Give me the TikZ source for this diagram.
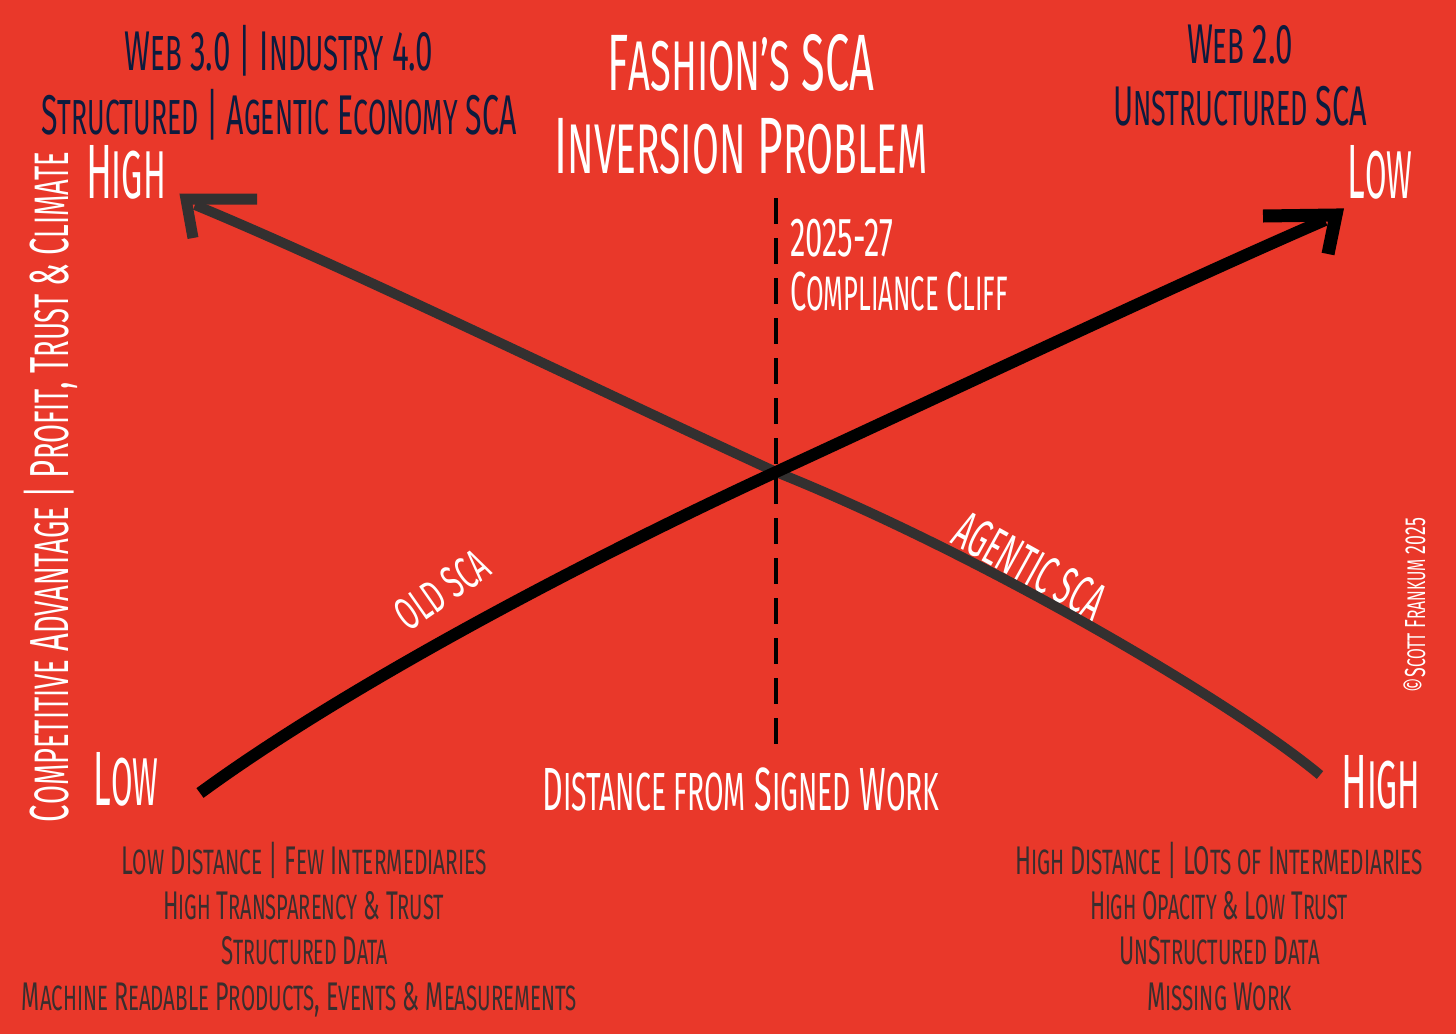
\documentclass[tikz,border=0pt]{standalone}
\usepackage{fontspec}
\setmainfont{Fira Sans}
\usepackage{graphicx}
\definecolor{bgred}{HTML}{E9382A}
\definecolor{navyc}{HTML}{0D1B3E}
\definecolor{darkt}{HTML}{3A2E2E}
\definecolor{grayline}{HTML}{333030}
\newlength\fitlen
\newcommand\fitw[2]{\settowidth\fitlen{#2}\pgfmathsetmacro\fitfac{#1/\fitlen}\scalebox{\fitfac}[1]{#2}}
\newcommand\fsz[1]{\fontsize{#1}{#1}\selectfont}
\newcommand\lc[1]{\scalebox{0.88}{\MakeUppercase{#1}}}
\tikzset{
  txt/.style={inner sep=0pt, outer sep=0pt, anchor=base},
  wtxt/.style={txt, text=white},
  ntxt/.style={txt, text=navyc},
  gtxt/.style={txt, text=darkt},
  oldline/.style={line width=6pt, black},
  agline/.style={line width=5pt, grayline},
  headold/.style={line width=6.5pt, black, line join=miter},
  headag/.style={line width=5.5pt, grayline, line join=miter},
  cliffline/.style={line width=2pt, black, dash pattern=on 13pt off 7pt}
}
\begin{document}
\begin{tikzpicture}[x=0.5pt,y=-0.5pt]
\fill[bgred] (0,0) rectangle (1456,1034);
\useasboundingbox (0,0) rectangle (1456,1034);

% titles
\node[wtxt, font=\fsz{40}] (t1) at (741,90) {\fitw{133.5pt}{F\lc{ashion's} SCA}};
\node[wtxt, font=\fsz{40}] (t2) at (741,173) {\fitw{186.5pt}{I\lc{nversion} P\lc{roblem}}};

\node[ntxt, font=\fsz{28}] (w3) at (279,70) {\fitw{154.5pt}{W\lc{eb} 3.0 | I\lc{ndustry} 4.0}};
\node[ntxt, font=\fsz{28}] (st) at (279,134) {\fitw{237.5pt}{S\lc{tructured} | A\lc{gentic} E\lc{conomy} SCA}};
\node[ntxt, font=\fsz{28}] (w2) at (1240,63) {\fitw{53pt}{W\lc{eb} 2.0}};
\node[ntxt, font=\fsz{28}] (un) at (1240,125) {\fitw{127pt}{U\lc{nstructured} SCA}};

% corner labels
\node[wtxt, font=\fsz{38.5}] (hiTL) at (126,198) {\fitw{40pt}{H\lc{igh}}};
\node[wtxt, font=\fsz{38.5}] (loTR) at (1380,198) {\fitw{32.5pt}{L\lc{ow}}};
\node[wtxt, font=\fsz{38.5}] (loBL) at (126,805) {\fitw{32.5pt}{L\lc{ow}}};
\node[wtxt, font=\fsz{38.5}] (hiBR) at (1381,808) {\fitw{39.5pt}{H\lc{igh}}};

% axis labels
\node[wtxt, font=\fsz{27.5}, rotate=90] (yax) at (68,487) {\fitw{335pt}{C\lc{ompetitive} A\lc{dvantage} | P\lc{rofit}, T\lc{rust} \& C\lc{limate}}};
\node[wtxt, font=\fsz{30.5}] (xax) at (741,810) {\fitw{198.5pt}{D\lc{istance from} S\lc{igned} W\lc{ork}}};
\node[wtxt, font=\fsz{14.5}, rotate=90] (copy) at (1425,605) {\fitw{87pt}{©S\lc{cott} F\lc{rankum} 2025}};

% compliance cliff
\node[wtxt, font=\fsz{27.5}, anchor=base west] (yr) at (790,256) {\fitw{51.5pt}{2025-27}};
\node[wtxt, font=\fsz{27.5}, anchor=base west] (cc) at (790,310) {\fitw{109pt}{C\lc{ompliance} C\lc{liff}}};

% curve labels
\node[wtxt, font=\fsz{23}, anchor=center, rotate=35] (old) at (442,590) {\fitw{52pt}{OLD SCA}};
\node[wtxt, font=\fsz{27}, anchor=center, rotate=-29] (ag) at (1030,566) {\fitw{82pt}{AGENTIC SCA}};

% bottom left
\node[gtxt, font=\fsz{20}] (bl1) at (304,874) {\fitw{183pt}{L\lc{ow} D\lc{istance} | F\lc{ew} I\lc{ntermediaries}}};
\node[gtxt, font=\fsz{20}] (bl2) at (303.5,919) {\fitw{140.5pt}{H\lc{igh} T\lc{ransparency} \& T\lc{rust}}};
\node[gtxt, font=\fsz{20}] (bl3) at (304.5,964) {\fitw{83.5pt}{S\lc{tructured} D\lc{ata}}};
\node[gtxt, font=\fsz{20}] (bl4) at (299.5,1010) {\fitw{277.5pt}{M\lc{achine} R\lc{eadable} P\lc{roducts}, E\lc{vents} \& M\lc{easurements}}};

% bottom right
\node[gtxt, font=\fsz{20}] (br1) at (1219,874) {\fitw{204pt}{H\lc{igh} D\lc{istance} | LO\lc{ts of} I\lc{ntermediaries}}};
\node[gtxt, font=\fsz{20}] (br2) at (1219,919) {\fitw{129pt}{H\lc{igh} O\lc{pacity} \& L\lc{ow} T\lc{rust}}};
\node[gtxt, font=\fsz{20}] (br3) at (1219.5,964) {\fitw{100.5pt}{U\lc{n}S\lc{tructured} D\lc{ata}}};
\node[gtxt, font=\fsz{20}] (br4) at (1219.5,1010) {\fitw{72.5pt}{M\lc{issing} W\lc{ork}}};

% dashed cliff line
\coordinate (dtop) at (776,198);
\coordinate (dbot) at (776,752);
\draw[cliffline] (dtop) -- (dbot);

% curves
\coordinate (X) at (776,472);
\coordinate (oS) at (200,793);
\coordinate (oE) at (1325,220);
\coordinate (aS) at (1320,775);
\coordinate (aE) at (195,205);

\draw[agline] (aS) .. controls +(-90,-75) and +(200,80) .. (X)
                   .. controls +(-200,-92) and +(150,62) .. (aE);
\draw[headag] (257,199) -- (186,199) -- (193,238);

\draw[oldline] (oS) .. controls +(150,-110) and +(-180,83) .. (X)
                    .. controls +(180,-83) and +(-150,65) .. (oE);
\draw[headold] (1263,216) -- (1336,215) -- (1328,254);
\end{tikzpicture}
\end{document}
